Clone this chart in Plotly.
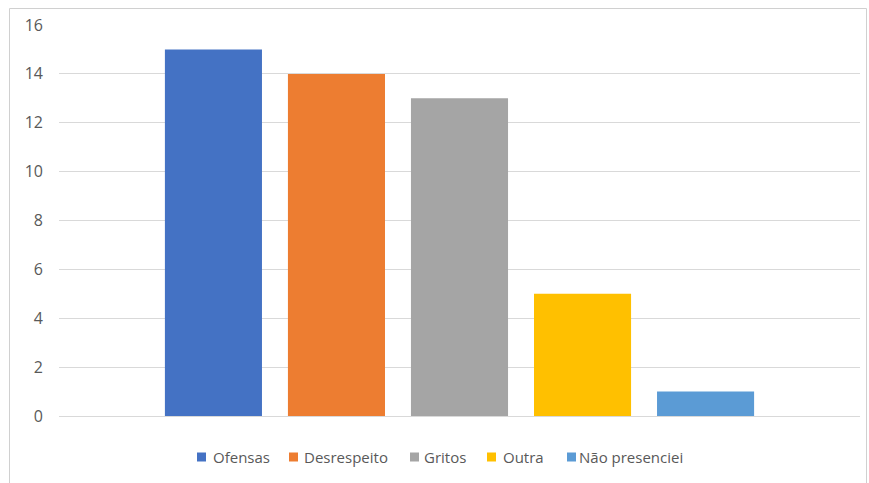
import plotly.graph_objects as go

category = [""]
series_names = ["Ofensas", "Desrespeito", "Gritos", "Outra", "Não presenciei"]
series_values = [15, 14, 13, 5, 1]
series_colors = ["#4472C4", "#ED7D31", "#A5A5A5", "#FFC000", "#5B9BD5"]
tick_vals = [0, 2, 4, 6, 8, 10, 12, 14, 16]

# legend layout (pixel positions of each legend entry's marker and text start)
legend_marker_px = [197, 289, 410, 487, 567]
legend_text_px = [212, 303, 423, 502, 578]
legend_y_px = 457

fig = go.Figure()
for name, val, col in zip(series_names, series_values, series_colors):
    fig.add_trace(go.Bar(x=category, y=[val], name=name, showlegend=False,
                         marker=dict(color=col, line=dict(width=0))))

W, H = 869, 483
L, R, T, B = 59, 9, 25, 67
pw = W - L - R
ph = H - T - B

def px_x(x):
    return (x - L) / pw

def px_y(y):
    return (H - B - y) / ph

shapes = [dict(type="rect", xref="paper", yref="paper",
               x0=px_x(9.5), x1=px_x(866.5), y0=px_y(495), y1=px_y(8.5),
               line=dict(color="#D0D0D0", width=1), fillcolor="rgba(0,0,0,0)", layer="below")]
annotations = []
for name, col, mx, tx in zip(series_names, series_colors, legend_marker_px, legend_text_px):
    shapes.append(dict(type="rect", xref="paper", yref="paper",
                       x0=px_x(mx), x1=px_x(mx + 9), y0=px_y(legend_y_px + 4.5), y1=px_y(legend_y_px - 4.5),
                       line=dict(width=0), fillcolor=col))
    annotations.append(dict(text=name, xref="paper", yref="paper", x=px_x(tx - 1), y=px_y(legend_y_px),
                            xanchor="left", yanchor="middle", showarrow=False,
                            font=dict(size=15, color="#595959")))

fig.update_layout(
    width=W, height=H,
    margin=dict(l=L, r=R, t=T, b=B),
    paper_bgcolor="white", plot_bgcolor="white",
    barmode="group", bargap=0.232, bargroupgap=0.211,
    font=dict(family="Open Sans, Liberation Sans, sans-serif", size=15, color="#595959"),
    showlegend=False,
    yaxis=dict(range=[0, 16], tickvals=tick_vals, showgrid=True, gridcolor="#D9D9D9", gridwidth=1,
               zeroline=True, zerolinecolor="#D9D9D9", zerolinewidth=1, showline=False,
               ticks="", ticklabelstandoff=15, tickfont=dict(size=16, color="#595959")),
    xaxis=dict(showgrid=False, zeroline=False, showline=False, ticks="", showticklabels=False),
    shapes=shapes,
    annotations=annotations,
)

fig.write_html("out.html")
